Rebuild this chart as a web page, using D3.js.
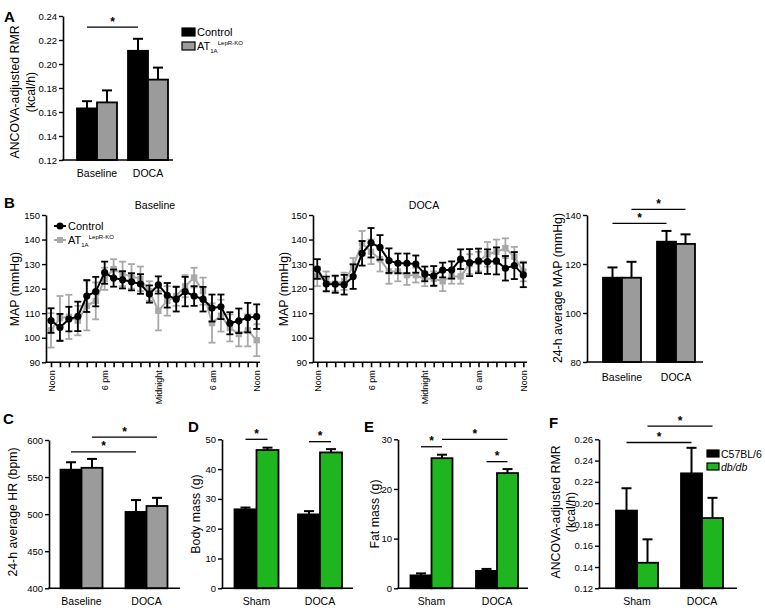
<!DOCTYPE html>
<html><head><meta charset="utf-8">
<script src="https://cdn.jsdelivr.net/npm/d3@7"></script>
<style>
body{margin:0;background:#fff}
text{font-family:"Liberation Sans",Arial,Helvetica,sans-serif;fill:#000}
</style>
</head><body>
<svg id="fig" width="765" height="612" xmlns="http://www.w3.org/2000/svg"></svg>
<script>
// ---------------- DATA ----------------
const catsAB = ["Baseline", "DOCA"];
const catsDEF = ["Sham", "DOCA"];
const groupsAB = ["Control", "AT1A LepR-KO"];
const groupsDEF = ["C57BL/6", "db/db"];

// A: ANCOVA-adjusted RMR (kcal/h)
const aControl = [0.163, 0.211];
const aControlErr = [0.006, 0.010];
const aKO = [0.168, 0.187];
const aKOErr = [0.010, 0.010];
const aTicks = [0.12, 0.14, 0.16, 0.18, 0.20, 0.22, 0.24];

// B (right): 24-h average MAP (mmHg)
const bMapControl = [114.4, 129.1];
const bMapControlErr = [4.2, 4.4];
const bMapKO = [114.4, 128.2];
const bMapKOErr = [6.5, 3.9];
const bMapTicks = [80, 100, 120, 140];

// B (time course): hourly MAP, noon to noon
const hourLabels = ["Noon","","","","","","6 pm","","","","","","Midnight","","","","","","6 am","","","","","Noon"];
const baseControl = [107, 104.2, 107.6, 108.7, 117, 118.8, 126.5, 124.3, 123.6, 122.8, 121.9, 117.8,
                     121.5, 117.3, 115.7, 118.8, 117, 115.7, 112.1, 112.6, 105.9, 106.9, 108.2, 108.6];
const baseControlErr = [5, 5.5, 5, 6, 6.5, 6, 4.5, 3.5, 3.5, 3.5, 4, 3.5,
                        3.5, 5, 5, 6, 4, 5, 5.5, 5, 4.5, 5, 6, 5];
const baseKO = [103, 108, 108.5, 107, 113, 115, 124, 128, 126, 125, 124, 119,
                111, 115, 117, 121, 124.5, 119, 106, 109, 104, 101.5, 103, 99];
const baseKOErr = [7, 9, 9, 6, 10, 7.5, 4.5, 4, 5, 5, 5, 4,
                   8, 6, 4, 4.5, 4, 5.5, 8, 6.5, 5.5, 5, 6.5, 6.5];
const docaControl = [128, 121.9, 121.8, 121.6, 124.9, 134.4, 138.7, 136.8, 131.4, 130.3, 130.3, 130,
                     126, 125.2, 127.6, 127.6, 132, 130.6, 131.3, 131, 131.3, 128.3, 129.4, 125.6];
const docaControlErr = [4, 3, 3.5, 4, 5, 5, 6, 5, 5, 4, 4, 3.5,
                        3, 4, 3, 3.5, 4, 5.5, 5, 5, 5.5, 5, 5.5, 5];
const docaKO = [125, 123, 122, 123, 129, 138.5, 135, 132, 127, 127, 125.5, 125.5,
                124, 124, 123, 125, 125, 130, 131, 134, 135, 136.5, 133, 127];
const docaKOErr = [4, 4, 3, 3.5, 3.5, 5, 5, 5, 5, 4, 4, 3,
                   3, 3, 4, 3, 3, 4, 4, 5, 5, 4, 4, 4];
const mapTicks = [90, 100, 110, 120, 130, 140, 150];

// C: 24-h average HR (bpm)
const cHrControl = [560, 503];
const cHrControlErr = [10, 16];
const cHrKO = [562.5, 511];
const cHrKOErr = [12, 11];
const cTicks = [400, 450, 500, 550, 600];

// D: Body mass (g)
const dBodyC57 = [26.5, 24.8];
const dBodyC57Err = [0.6, 1.1];
const dBodyDb = [46.4, 45.6];
const dBodyDbErr = [0.8, 1.1];
const dTicks = [0, 10, 20, 30, 40, 50];

// E: Fat mass (g)
const eFatC57 = [2.6, 3.5];
const eFatC57Err = [0.4, 0.4];
const eFatDb = [26.2, 23.2];
const eFatDbErr = [0.7, 0.8];
const eTicks = [0, 10, 20, 30];

// F: ANCOVA-adjusted RMR (kcal/h)
const fRmrC57 = [0.193, 0.228];
const fRmrC57Err = [0.021, 0.024];
const fRmrDb = [0.144, 0.186];
const fRmrDbErr = [0.022, 0.019];
const fTicks = [0.12, 0.14, 0.16, 0.18, 0.20, 0.22, 0.24, 0.26];

// ---------------- STYLE ----------------
const BLACK = "#000", GREY_BAR = "#9b9b9b", GREY_LINE = "#a9a9a9", GREEN = "#1fb51f";
const TICK_FS = 9.5, CAT_FS = 10.5, YLAB_FS = 12.3, LET_FS = 15;

const svg = d3.select("#fig");

function yLabel(g, lines, xs, cy) {
  lines.forEach((t, i) => {
    g.append("text").attr("transform", `translate(${xs[i]},${cy}) rotate(-90)`)
      .attr("text-anchor", "middle").attr("dy", "0.35em")
      .style("font-size", YLAB_FS + "px").text(t);
  });
}
function letter(t, x, y) {
  svg.append("text").attr("x", x).attr("y", y).style("font-size", LET_FS + "px")
    .style("font-weight", "bold").text(t);
}
function styleAxis(a) {
  a.select(".domain").attr("stroke", BLACK).attr("stroke-width", 1.6);
  a.selectAll(".tick line").attr("stroke", BLACK).attr("stroke-width", 1.4);
  a.selectAll(".tick text").style("font-size", TICK_FS + "px").style("font-family", "Liberation Sans, Arial, sans-serif").attr("fill", BLACK);
}

function barPanel(cfg) {
  const g = svg.append("g");
  const y = d3.scaleLinear().domain(cfg.domain).range([cfg.bottom, cfg.top]);
  const xg = d3.scalePoint().domain(cfg.cats).range(cfg.centers);
  const xs = d3.scaleBand().domain(d3.range(cfg.series.length)).range([-cfg.barW, cfg.barW]);
  const cx = (ci, si) => xg(cfg.cats[ci]) + xs(si) + xs.bandwidth() / 2;

  cfg.series.forEach((s, si) => {
    g.selectAll(null).data(s.vals).join("rect")
      .attr("x", (d, i) => xg(cfg.cats[i]) + xs(si))
      .attr("y", d => y(d))
      .attr("width", xs.bandwidth())
      .attr("height", d => y(cfg.domain[0]) - y(d))
      .attr("fill", s.fill).attr("stroke", BLACK).attr("stroke-width", 1.8);
  });
  cfg.series.forEach((s, si) => {
    s.vals.forEach((v, i) => {
      const x = cx(i, si), y0 = y(v), y1 = y(v + s.errs[i]);
      g.append("line").attr("x1", x).attr("x2", x).attr("y1", y0).attr("y2", y1)
        .attr("stroke", BLACK).attr("stroke-width", 2);
      g.append("line").attr("x1", x - 5).attr("x2", x + 5).attr("y1", y1).attr("y2", y1)
        .attr("stroke", BLACK).attr("stroke-width", 2);
    });
  });
  const ya = g.append("g").attr("transform", `translate(${cfg.left},0)`)
    .call(d3.axisLeft(y).tickValues(cfg.ticks).tickFormat(cfg.fmt).tickSize(4).tickSizeOuter(0).tickPadding(2));
  styleAxis(ya);
  g.append("line").attr("x1", cfg.left - 0.8).attr("x2", cfg.right)
    .attr("y1", y(cfg.domain[0])).attr("y2", y(cfg.domain[0]))
    .attr("stroke", BLACK).attr("stroke-width", 1.6);
  cfg.cats.forEach(c => {
    g.append("text").attr("x", xg(c)).attr("y", cfg.catY).attr("text-anchor", "middle")
      .style("font-size", CAT_FS + "px").text(c);
  });
  (cfg.sig || []).forEach(s => {
    const x1 = cx(s.a[0], s.a[1]), x2 = cx(s.b[0], s.b[1]), yy = y(s.y);
    g.append("line").attr("x1", x1).attr("x2", x2).attr("y1", yy).attr("y2", yy)
      .attr("stroke", BLACK).attr("stroke-width", 1.3);
    g.append("text").attr("x", (x1 + x2) / 2).attr("y", yy - 1.5).attr("text-anchor", "middle")
      .style("font-size", "12px").style("font-weight", "bold").text("*");
  });
  yLabel(g, cfg.ylabel, cfg.ylabelX, cfg.ylabelY);
  return g;
}

function linePanel(cfg) {
  const g = svg.append("g");
  const y = d3.scaleLinear().domain([90, 150]).range([362.3, 215]);
  const x = d3.scaleLinear().domain([0, hourLabels.length - 1]).range(cfg.xr);
  const idx = d3.range(hourLabels.length);
  const line = d3.line().x((d, i) => x(i)).y(d => y(d));
  const drawSeries = (vals, errs, col, shape) => {
    g.append("path").datum(vals).attr("d", line).attr("fill", "none")
      .attr("stroke", col).attr("stroke-width", 2);
    vals.forEach((v, i) => {
      const xx = x(i), lo = y(v - errs[i]), hi = y(v + errs[i]);
      g.append("line").attr("x1", xx).attr("x2", xx).attr("y1", lo).attr("y2", hi)
        .attr("stroke", col).attr("stroke-width", 1.8);
      [lo, hi].forEach(yy => g.append("line").attr("x1", xx - 3.5).attr("x2", xx + 3.5)
        .attr("y1", yy).attr("y2", yy).attr("stroke", col).attr("stroke-width", 1.8));
    });
    if (shape === "sq") {
      g.selectAll(null).data(vals).join("rect")
        .attr("x", (d, i) => x(i) - 3.2).attr("y", d => y(d) - 3.2)
        .attr("width", 6.4).attr("height", 6.4).attr("fill", col);
    } else {
      g.selectAll(null).data(vals).join("circle")
        .attr("cx", (d, i) => x(i)).attr("cy", d => y(d)).attr("r", 3.6).attr("fill", col);
    }
  };
  drawSeries(cfg.ko, cfg.koErr, GREY_LINE, "sq");
  drawSeries(cfg.ctrl, cfg.ctrlErr, BLACK, "c");

  const ya = g.append("g").attr("transform", `translate(${cfg.left},0)`)
    .call(d3.axisLeft(y).tickValues(mapTicks).tickSize(4).tickSizeOuter(0).tickPadding(2));
  styleAxis(ya);
  const xa = g.append("g").attr("transform", `translate(0,${y(90)})`)
    .call(d3.axisBottom(x).tickValues(idx).tickFormat(i => hourLabels[i]).tickSize(5).tickSizeOuter(0).tickPadding(3));
  xa.select(".domain").remove();
  xa.selectAll(".tick line").attr("stroke", BLACK).attr("stroke-width", 1.6);
  xa.selectAll(".tick text").attr("transform", "rotate(-90)").attr("text-anchor", "end")
    .attr("x", -8).attr("y", 0).attr("dy", "0.35em")
    .style("font-size", "9px").style("font-family", "Liberation Sans, Arial, sans-serif");
  g.append("line").attr("x1", cfg.left - 0.8).attr("x2", cfg.right)
    .attr("y1", y(90)).attr("y2", y(90)).attr("stroke", BLACK).attr("stroke-width", 1.6);
  g.append("text").attr("x", cfg.titleX).attr("y", 209).attr("text-anchor", "middle")
    .style("font-size", CAT_FS + "px").text(cfg.title);
  yLabel(g, ["MAP (mmHg)"], [cfg.ylabelX], 289);
  return g;
}

function koLabel(g, x, y, fs) {
  const t = g.append("text").attr("x", x).attr("y", y).style("font-size", fs + "px");
  t.append("tspan").text("AT");
  t.append("tspan").attr("dy", 3).style("font-size", (fs * 0.55) + "px").text("1A");
  t.append("tspan").attr("dy", -8).style("font-size", (fs * 0.55) + "px").text("LepR-KO");
}

// ---------------- PANEL A ----------------
letter("A", 4, 22);
const pa = barPanel({
  left: 63, right: 173, top: 16, bottom: 160, domain: [0.12, 0.24], ticks: aTicks,
  fmt: d3.format(".2f"), cats: catsAB, centers: [97, 148], barW: 20, catY: 177,
  series: [{vals: aControl, errs: aControlErr, fill: BLACK}, {vals: aKO, errs: aKOErr, fill: GREY_BAR}],
  sig: [{a: [0, 0], b: [1, 0], y: 0.2308}],
  ylabel: ["ANCOVA-adjusted RMR", "(kcal/h)"], ylabelX: [15, 31], ylabelY: 92
});
pa.append("rect").attr("x", 182).attr("y", 28).attr("width", 13).attr("height", 8)
  .attr("fill", BLACK).attr("stroke", BLACK).attr("stroke-width", 1.2);
pa.append("text").attr("x", 197).attr("y", 36).style("font-size", "11px").text(groupsAB[0]);
pa.append("rect").attr("x", 182).attr("y", 42).attr("width", 13).attr("height", 8)
  .attr("fill", GREY_BAR).attr("stroke", BLACK).attr("stroke-width", 1.2);
koLabel(pa, 197, 50, 11);

// ---------------- PANEL B ----------------
letter("B", 4, 208);
const pb1 = linePanel({xr: [51, 256.7], left: 46, right: 260, title: "Baseline", titleX: 155,
  ctrl: baseControl, ctrlErr: baseControlErr, ko: baseKO, koErr: baseKOErr, ylabelX: 15});
pb1.append("line").attr("x1", 54).attr("x2", 66).attr("y1", 226).attr("y2", 226)
  .attr("stroke", BLACK).attr("stroke-width", 2);
pb1.append("circle").attr("cx", 60).attr("cy", 226).attr("r", 3.5).attr("fill", BLACK);
pb1.append("text").attr("x", 68).attr("y", 230).style("font-size", "11px").text(groupsAB[0]);
pb1.append("line").attr("x1", 54).attr("x2", 66).attr("y1", 240).attr("y2", 240)
  .attr("stroke", GREY_LINE).attr("stroke-width", 2);
pb1.append("rect").attr("x", 57).attr("y", 237).attr("width", 6).attr("height", 6).attr("fill", GREY_LINE);
koLabel(pb1, 68, 244, 11);

linePanel({xr: [317.3, 523.3], left: 313, right: 527, title: "DOCA", titleX: 424,
  ctrl: docaControl, ctrlErr: docaControlErr, ko: docaKO, koErr: docaKOErr, ylabelX: 284});

barPanel({
  left: 587, right: 703, top: 215, bottom: 362, domain: [80, 140], ticks: bMapTicks,
  fmt: d3.format("d"), cats: catsAB, centers: [622, 676], barW: 19, catY: 381,
  series: [{vals: bMapControl, errs: bMapControlErr, fill: BLACK}, {vals: bMapKO, errs: bMapKOErr, fill: GREY_BAR}],
  sig: [{a: [0, 0], b: [1, 0], y: 136.6}, {a: [0, 1], b: [1, 1], y: 142.3}],
  ylabel: ["24-h average MAP (mmHg)"], ylabelX: [558], ylabelY: 288
});

// ---------------- PANEL C ----------------
letter("C", 3, 424);
barPanel({
  left: 49, right: 180, top: 440, bottom: 588.3, domain: [400, 600], ticks: cTicks,
  fmt: d3.format("d"), cats: catsAB, centers: [81.5, 146.5], barW: 21, catY: 605,
  series: [{vals: cHrControl, errs: cHrControlErr, fill: BLACK}, {vals: cHrKO, errs: cHrKOErr, fill: GREY_BAR}],
  sig: [{a: [0, 0], b: [1, 0], y: 584}, {a: [0, 1], b: [1, 1], y: 604}],
  ylabel: ["24-h average HR (bpm)"], ylabelX: [13], ylabelY: 512
});

// ---------------- PANEL D ----------------
letter("D", 188, 432);
barPanel({
  left: 222, right: 353, top: 439.3, bottom: 588.3, domain: [0, 50], ticks: dTicks,
  fmt: d3.format("d"), cats: catsDEF, centers: [256.5, 320], barW: 22, catY: 605,
  series: [{vals: dBodyC57, errs: dBodyC57Err, fill: BLACK}, {vals: dBodyDb, errs: dBodyDbErr, fill: GREEN}],
  sig: [{a: [0, 0], b: [0, 1], y: 50}, {a: [1, 0], b: [1, 1], y: 49.2}],
  ylabel: ["Body mass (g)"], ylabelX: [196], ylabelY: 514
});

// ---------------- PANEL E ----------------
letter("E", 364, 432);
barPanel({
  left: 398, right: 528, top: 439.3, bottom: 588.3, domain: [0, 30], ticks: eTicks,
  fmt: d3.format("d"), cats: catsDEF, centers: [431.5, 497], barW: 21, catY: 605,
  series: [{vals: eFatC57, errs: eFatC57Err, fill: BLACK}, {vals: eFatDb, errs: eFatDbErr, fill: GREEN}],
  sig: [{a: [0, 0], b: [0, 1], y: 28.5}, {a: [0, 1], b: [1, 1], y: 30}, {a: [1, 0], b: [1, 1], y: 25.5}],
  ylabel: ["Fat mass (g)"], ylabelX: [375], ylabelY: 514
});

// ---------------- PANEL F ----------------
letter("F", 549, 428);
const pf = barPanel({
  left: 599, right: 737, top: 439.3, bottom: 588.3, domain: [0.12, 0.26], ticks: fTicks,
  fmt: d3.format(".2f"), cats: catsDEF, centers: [637, 702], barW: 21, catY: 605,
  series: [{vals: fRmrC57, errs: fRmrC57Err, fill: BLACK}, {vals: fRmrDb, errs: fRmrDbErr, fill: GREEN}],
  sig: [{a: [0, 0], b: [1, 0], y: 0.257}, {a: [0, 1], b: [1, 1], y: 0.2724}],
  ylabel: ["ANCOVA-adjusted RMR", "(kcal/h)"], ylabelX: [556, 571], ylabelY: 512
});
pf.append("rect").attr("x", 707).attr("y", 450).attr("width", 12).attr("height", 7)
  .attr("fill", BLACK).attr("stroke", BLACK).attr("stroke-width", 1.2);
pf.append("text").attr("x", 721).attr("y", 457.5).style("font-size", "10.5px").text(groupsDEF[0]);
pf.append("rect").attr("x", 707).attr("y", 463).attr("width", 12).attr("height", 7)
  .attr("fill", GREEN).attr("stroke", BLACK).attr("stroke-width", 1.2);
pf.append("text").attr("x", 721).attr("y", 470.5).style("font-size", "10.5px")
  .style("font-style", "italic").text(groupsDEF[1]);
</script>
</body></html>
